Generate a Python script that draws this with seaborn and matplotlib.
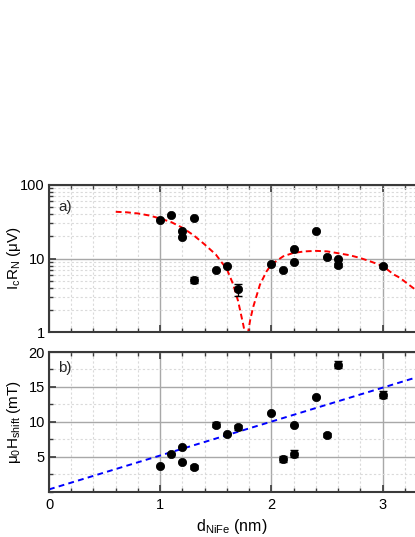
import numpy as np
import pandas as pd
import matplotlib
matplotlib.use('Agg')
import matplotlib.pyplot as plt
import seaborn as sns
from matplotlib.ticker import MultipleLocator, LogLocator, FixedLocator, NullFormatter, FuncFormatter

sns.set_theme(style='white')
plt.rcParams['font.family'] = ['Liberation Sans', 'DejaVu Sans']
plt.rcParams['mathtext.fontset'] = 'custom'
plt.rcParams['mathtext.rm'] = 'Liberation Sans'
plt.rcParams['mathtext.it'] = 'Liberation Sans:italic'
plt.rcParams['mathtext.default'] = 'regular'

# ---- data: panel a) IcRN ----
d_icrn = [1.0, 1.1, 1.2, 1.2, 1.3, 1.3, 1.5, 1.6, 1.7, 2.0, 2.1, 2.2, 2.2, 2.4, 2.5, 2.6, 2.6, 3.0]
icrn = [33, 39, 24, 19.4, 35.5, 5.1, 6.9, 8.0, 3.8, 8.3, 6.9, 13.5, 9.0, 24, 10.5, 9.9, 8.1, 7.8]
icrn_err = [0, 0, 0, 0, 0, 0.45, 0, 0, 0.7, 0, 0, 0, 0, 0, 0, 0, 0.5, 0.45]

# theory curve
fit_d = [0.60, 0.70, 0.80, 0.90, 1.00, 1.10, 1.20, 1.30, 1.40, 1.50, 1.60, 1.656, 1.70,
         1.746, 1.765, 1.775, 1.785, 1.81, 1.836, 1.896, 1.956, 2.00, 2.105, 2.195, 2.30,
         2.40, 2.50, 2.585, 2.70, 2.794, 2.90, 3.00, 3.10, 3.154, 3.29]
fit_icrn = [43.2, 42.5, 41.0, 38.5, 35.0, 31.2, 26.2, 20.7, 15.5, 11.3, 7.1, 4.43, 2.63,
            1.26, 0.9, 0.3, 0.9, 1.5, 2.2, 4.4, 6.7, 8.3, 10.7, 11.9, 12.5,
            12.7, 12.5, 11.9, 11.1, 10.2, 9.0, 7.9, 6.05, 5.46, 3.8]

# ---- data: panel b) mu0 H_shift ----
d_h = [1.0, 1.1, 1.2, 1.2, 1.3, 1.5, 1.6, 1.7, 2.0, 2.1, 2.2, 2.2, 2.4, 2.5, 2.6, 3.0]
hshift = [3.7, 5.4, 6.4, 4.3, 3.5, 9.6, 8.2, 9.2, 11.3, 4.7, 9.6, 5.4, 13.5, 8.1, 18.2, 13.9]
hshift_err = [0, 0, 0, 0, 0.3, 0.4, 0, 0.35, 0, 0.45, 0, 0.5, 0, 0.35, 0.5, 0.45]

lin_d = [0.0, 3.29]
lin_h = [0.3, 16.3]

x_ticks = [0, 1, 2, 3]
a_yticks = [1, 10, 100]
b_yticks = [5, 10, 15, 20]

W, H = 415, 537
fig = plt.figure(figsize=(W / 100, H / 100), dpi=100)
left = 49 / W
width = 1.0 - left
axa = fig.add_axes([left, 1 - 332 / H, width, (332 - 185) / H])
axb = fig.add_axes([left, 1 - 491.5 / H, width, (491.5 - 352) / H])

spine_c = '#3a3a3a'
for ax in (axa, axb):
    ax.set_facecolor('white')
    for s in ['left', 'top', 'bottom']:
        ax.spines[s].set_color(spine_c)
        ax.spines[s].set_linewidth(1.5)
        ax.spines[s].set_visible(True)
    ax.spines['right'].set_visible(False)
    ax.set_xlim(0, 3.29)
    ax.xaxis.set_major_locator(FixedLocator(x_ticks))
    ax.xaxis.set_minor_locator(MultipleLocator(0.2))
    ax.grid(which='major', color='#a8a8a8', lw=1.0, ls='-')
    ax.grid(which='minor', color='#dadada', lw=0.8, ls=(0, (2, 2)))
    ax.set_axisbelow(True)
    ax.tick_params(which='both', direction='in', top=True, bottom=True, left=True, right=False,
                   color=spine_c, labelsize=10.5, labelcolor='black')
    ax.tick_params(which='major', length=5, width=1.2)
    ax.tick_params(which='minor', length=3, width=1.0)
    ax.tick_params(axis='y', pad=3)
    ax.tick_params(axis='x', pad=5)

# ---- panel a ----
axa.set_yscale('log')
axa.set_ylim(1, 100)
axa.yaxis.set_major_locator(FixedLocator(a_yticks))
axa.yaxis.set_minor_locator(LogLocator(base=10, subs=np.arange(2, 10)))
axa.yaxis.set_major_formatter(FuncFormatter(lambda v, p: f'{v:g}'))
axa.yaxis.set_minor_formatter(NullFormatter())
axa.tick_params(axis='x', labelbottom=False)

sns.lineplot(x=fit_d, y=fit_icrn, ax=axa, color='#ff0000', lw=1.4, ls=(0, (3, 1.8)),
             sort=False, estimator=None)
axa.errorbar(d_icrn, icrn, yerr=icrn_err, fmt='none', ecolor='black', elinewidth=1.0,
             capsize=2.8, capthick=1.0, zorder=3)
sns.scatterplot(x=d_icrn, y=icrn, ax=axa, color='black', s=36, edgecolor='black', linewidth=0.5,
                zorder=4)
axa.set_ylabel(r'I$_c$R$_N$ ($\mu$V)', fontsize=11, color='black')
axa.yaxis.set_label_coords(-0.072, 0.5)
axa.set_xlabel('')
axa.text(0.025, 0.85, 'a)', transform=axa.transAxes, fontsize=11, va='center', ha='left')

# ---- panel b ----
axb.set_ylim(0, 20)
axb.yaxis.set_major_locator(FixedLocator(b_yticks))
axb.yaxis.set_minor_locator(MultipleLocator(2.5))
sns.lineplot(x=lin_d, y=lin_h, ax=axb, color='#0000ff', lw=1.4, ls=(0, (3, 2.2)),
             sort=False, estimator=None)
axb.errorbar(d_h, hshift, yerr=hshift_err, fmt='none', ecolor='black', elinewidth=1.0,
             capsize=2.8, capthick=1.0, zorder=3)
sns.scatterplot(x=d_h, y=hshift, ax=axb, color='black', s=36, edgecolor='black', linewidth=0.5,
                zorder=4)
axb.set_ylabel(r'$\mu_0$H$_{shift}$ (mT)', fontsize=11, color='black')
axb.yaxis.set_label_coords(-0.072, 0.5)
axb.set_xlabel(r'd$_{NiFe}$ (nm)', fontsize=11.5, color='black', labelpad=3)
axb.text(0.025, 0.885, 'b)', transform=axb.transAxes, fontsize=11, va='center', ha='left')

fig.savefig('out.png', dpi=100)
